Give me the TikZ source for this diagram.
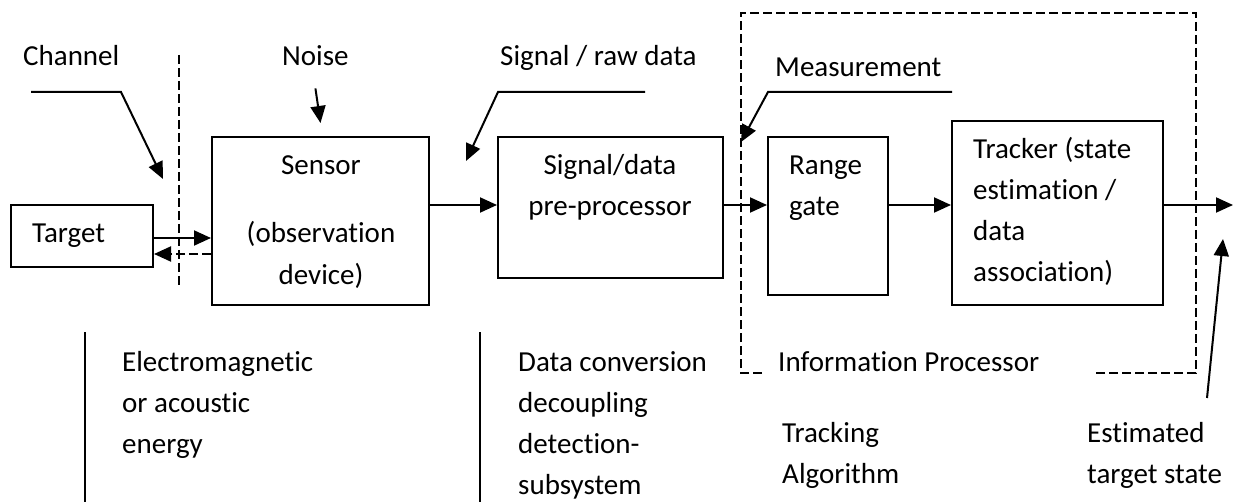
\documentclass[tikz,border=0pt]{standalone}
\usepackage{fontspec}
\setmainfont{Carlito}[Ligatures=NoCommon]
\usetikzlibrary{arrows.meta}

\begin{document}
\begin{tikzpicture}[
  x=1pt, y=-1pt,
  >={Triangle[length=17pt,width=15pt]},
  font=\fontsize{29}{41}\selectfont,
  block/.style={draw, line width=2pt, inner sep=0pt},
  txt/.style={anchor=base west, inner sep=0pt, align=left},
  ctxt/.style={anchor=base, inner sep=0pt, align=center},
  edge/.style={->, line width=2pt},
  boundary/.style={line width=1.5pt, dash pattern=on 9pt off 4pt},
  divider/.style={line width=2pt}
]
\useasboundingbox (0,0) rectangle (1238,502);

\node[block, minimum width=142pt, minimum height=62pt] (target) at (82,236) {};
\node[block, minimum width=217pt, minimum height=168pt] (sensor) at (320.5,221) {};
\node[block, minimum width=225pt, minimum height=141pt] (prep) at (610.5,207.5) {};
\node[block, minimum width=120pt, minimum height=158pt] (gate) at (828,216) {};
\node[block, minimum width=211pt, minimum height=184pt] (tracker) at (1057.5,213) {};

% multi-line texts sit on the baseline of their last line
\node[txt] (targettxt) at (32,243) {Target};
\node[ctxt] (sensortxt) at (321,284) {Sensor\\[27pt](observation\\device)};
\node[ctxt] (preptxt) at (610,216) {Signal/data\\pre-processor};
\node[txt] (gatetxt) at (789,216) {Range\\gate};
\node[txt] (trackertxt) at (973,282) {Tracker (state\\estimation /\\data\\association)};

\node[txt] (channeltxt) at (23,66) {Channel};
\node[txt] (noisetxt) at (282,66) {Noise};
\node[txt] (signaltxt) at (500,66) {Signal / raw data};
\node[txt] (meastxt) at (775,77) {Measurement};

\node[txt] (energytxt) at (122,453) {Electromagnetic\\or acoustic\\energy};
\node[txt] (convtxt) at (518,494) {Data conversion\\decoupling\\detection-\\subsystem};
\node[txt] (infotxt) at (778,371) {Information Processor};
\node[txt] (algotxt) at (782,483) {Tracking\\Algorithm};
\node[txt] (esttxt) at (1087,483) {Estimated\\target state};

\coordinate (out) at (1233,205);
\coordinate (esttail) at (1207,398);
\coordinate (esttip) at (1223,239);

\draw[edge] ([yshift=-2pt]target.east) -- ([yshift=-17pt]sensor.west);
\draw[edge, dash pattern=on 9pt off 4pt] ([yshift=-33pt]sensor.west) -- ([yshift=-18pt]target.east);
\draw[edge] ([yshift=-22pt]noisetxt.south) -- ([yshift=13pt]sensor.north);
\draw[edge] ([yshift=16pt]sensor.east) -- ([yshift=2.5pt]prep.west);
\draw[edge] ([yshift=2.5pt]prep.east) -- ([yshift=11pt]gate.west);
\draw[edge] ([yshift=11pt]gate.east) -- ([yshift=8pt]tracker.west);
\draw[edge] ([yshift=8pt]tracker.east) -- (out);
\draw[edge] (esttail) -- (esttip);

\draw[edge] (31,92) -- (121,92) -- (163,179);
\draw[edge] (645,92) -- (498,92) -- (466,161);
\draw[edge] (952,92) -- (768,92) -- (741,142);

\draw[boundary] (179,55) -- (179,286);
\draw[boundary] (762,373) -- (741,373) -- (741,13) -- (1196,13) -- (1196,373) -- (1094,373);
\draw[divider] (85,332) -- (85,502);
\draw[divider] (480,332) -- (480,502);
\end{tikzpicture}
\end{document}
